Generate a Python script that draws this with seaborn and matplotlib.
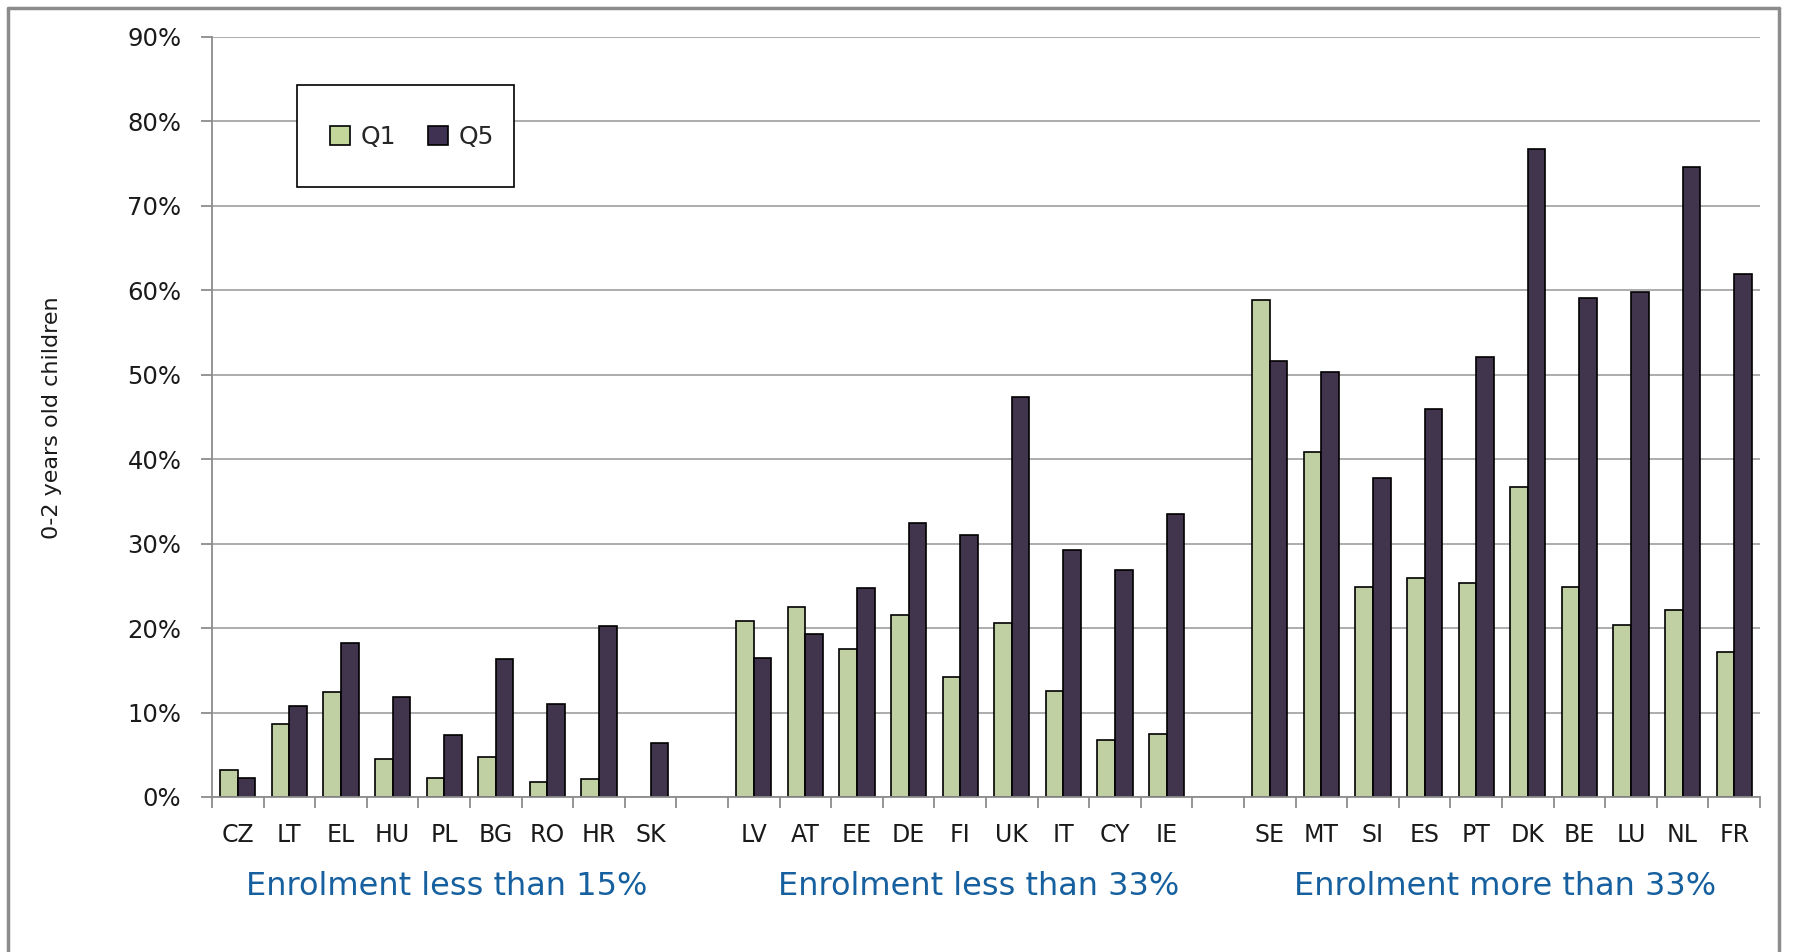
import numpy as np
import pandas as pd
import matplotlib
matplotlib.use("Agg")
import matplotlib.pyplot as plt
from matplotlib.patches import Patch, Rectangle
from matplotlib.lines import Line2D
import seaborn as sns

# Datos: % de niños de 0-2 años matriculados, por quintil de renta
paises_bajo = ["CZ", "LT", "EL", "HU", "PL", "BG", "RO", "HR", "SK"]
q1_bajo = [3.2, 8.6, 12.4, 4.5, 2.2, 4.7, 1.8, 2.1, np.nan]
q5_bajo = [2.2, 10.8, 18.2, 11.8, 7.4, 16.3, 11.0, 20.3, 6.4]

paises_medio = ["LV", "AT", "EE", "DE", "FI", "UK", "IT", "CY", "IE"]
q1_medio = [20.9, 22.5, 17.5, 21.5, 14.2, 20.6, 12.5, 6.8, 7.5]
q5_medio = [16.5, 19.3, 24.8, 32.4, 31.0, 47.4, 29.2, 26.9, 33.5]

paises_alto = ["SE", "MT", "SI", "ES", "PT", "DK", "BE", "LU", "NL", "FR"]
q1_alto = [58.8, 40.9, 24.9, 25.9, 25.4, 36.7, 24.9, 20.4, 22.1, 17.2]
q5_alto = [51.6, 50.3, 37.8, 46.0, 52.1, 76.7, 59.1, 59.8, 74.6, 61.9]

grupos = ["Enrolment less than 15%", "Enrolment less than 33%", "Enrolment more than 33%"]
quintiles = ["Q1", "Q5"]
colores = {"Q1": "#c4d79b", "Q5": "#3f3151"}


def tabla(paises, q1, q5):
    df = pd.DataFrame({"pais": paises, "Q1": q1, "Q5": q5})
    return df.melt(id_vars="pais", var_name="quintil", value_name="valor")


df = pd.concat([tabla(paises_bajo, q1_bajo, q5_bajo),
                tabla(paises_medio, q1_medio, q5_medio),
                tabla(paises_alto, q1_alto, q5_alto)], ignore_index=True)
df = df.dropna()

# huecos entre grupos
orden = paises_bajo + [" "] + paises_medio + ["  "] + paises_alto

sns.set_style("white")
plt.rcParams["font.family"] = ["DejaVu Sans"]

W, H = 1802, 952
fig = plt.figure(figsize=(W / 100, H / 100), dpi=100)
ax = fig.add_axes([212 / W, 1 - 797 / H, (1760 - 212) / W, (797 - 37) / H])

sns.barplot(data=df, x="pais", y="valor", hue="quintil", order=orden,
            hue_order=quintiles, palette=colores, width=0.68, errorbar=None,
            edgecolor="black", linewidth=1.2, legend=False, ax=ax)

ax.set_xlim(-0.5, len(orden) - 0.5)
ax.set_ylim(0, 90)
ax.set_yticks(np.arange(0, 91, 10))
ax.yaxis.set_major_formatter(plt.FuncFormatter(lambda v, p: f"{v:.0f}%"))
ax.yaxis.grid(True, color="#a6a6a6", lw=1.3)
ax.set_axisbelow(True)

ax.set_xlabel("")
ax.set_ylabel("")
for s in ["top", "right"]:
    ax.spines[s].set_visible(False)
for s in ["left", "bottom"]:
    ax.spines[s].set_color("#8c8c8c")
    ax.spines[s].set_linewidth(1.3)

ax.tick_params(axis="y", labelsize=17.5, length=8, color="#8c8c8c", width=1.3, pad=14,
               left=True, labelcolor="#1a1a1a")
ax.tick_params(axis="x", which="major", labelsize=17, length=0, pad=19, labelcolor="#1a1a1a")
ax.set_xticks(np.arange(-0.5, len(orden), 1), minor=True)
ax.tick_params(axis="x", which="minor", length=8, color="#8c8c8c", width=1.3, bottom=True)

# etiquetas de grupo
centros = [4.05, 14.35, 24.55]
for c, g in zip(centros, grupos):
    ax.text(c, -0.1176, g, transform=ax.get_xaxis_transform(), ha="center", va="center",
            fontsize=23, color="#17609f")

fig.text(52 / W, 1 - 418 / H, "0-2 years old children", rotation=90,
         ha="center", va="center", fontsize=16, color="#1a1a1a")

# leyenda con caja
fig.add_artist(Rectangle((297 / W, 1 - 187 / H), (514 - 297) / W, (187 - 85) / H,
                         transform=fig.transFigure, facecolor="white", edgecolor="black",
                         lw=1.2, zorder=4))
handles = [Patch(facecolor=colores[q], edgecolor="black", lw=1.2) for q in quintiles]
leg = fig.legend(handles, quintiles, loc="center", bbox_to_anchor=(412 / W, 1 - 137 / H),
                 ncol=2, frameon=False, fontsize=18, handlelength=0.8, handleheight=0.8,
                 columnspacing=1.3, handletextpad=0.4)
leg.set_zorder(5)

# marco exterior
borde = dict(color="#8c8c8c", lw=2.5, transform=fig.transFigure)
x0, x1, y1 = 8 / W, 1779 / W, 1 - 8 / H
fig.add_artist(Line2D([x0, x0], [0, y1], **borde))
fig.add_artist(Line2D([x0, x1], [y1, y1], **borde))
fig.add_artist(Line2D([x1, x1], [0, y1], **borde))

fig.savefig("out.png", dpi=100)
